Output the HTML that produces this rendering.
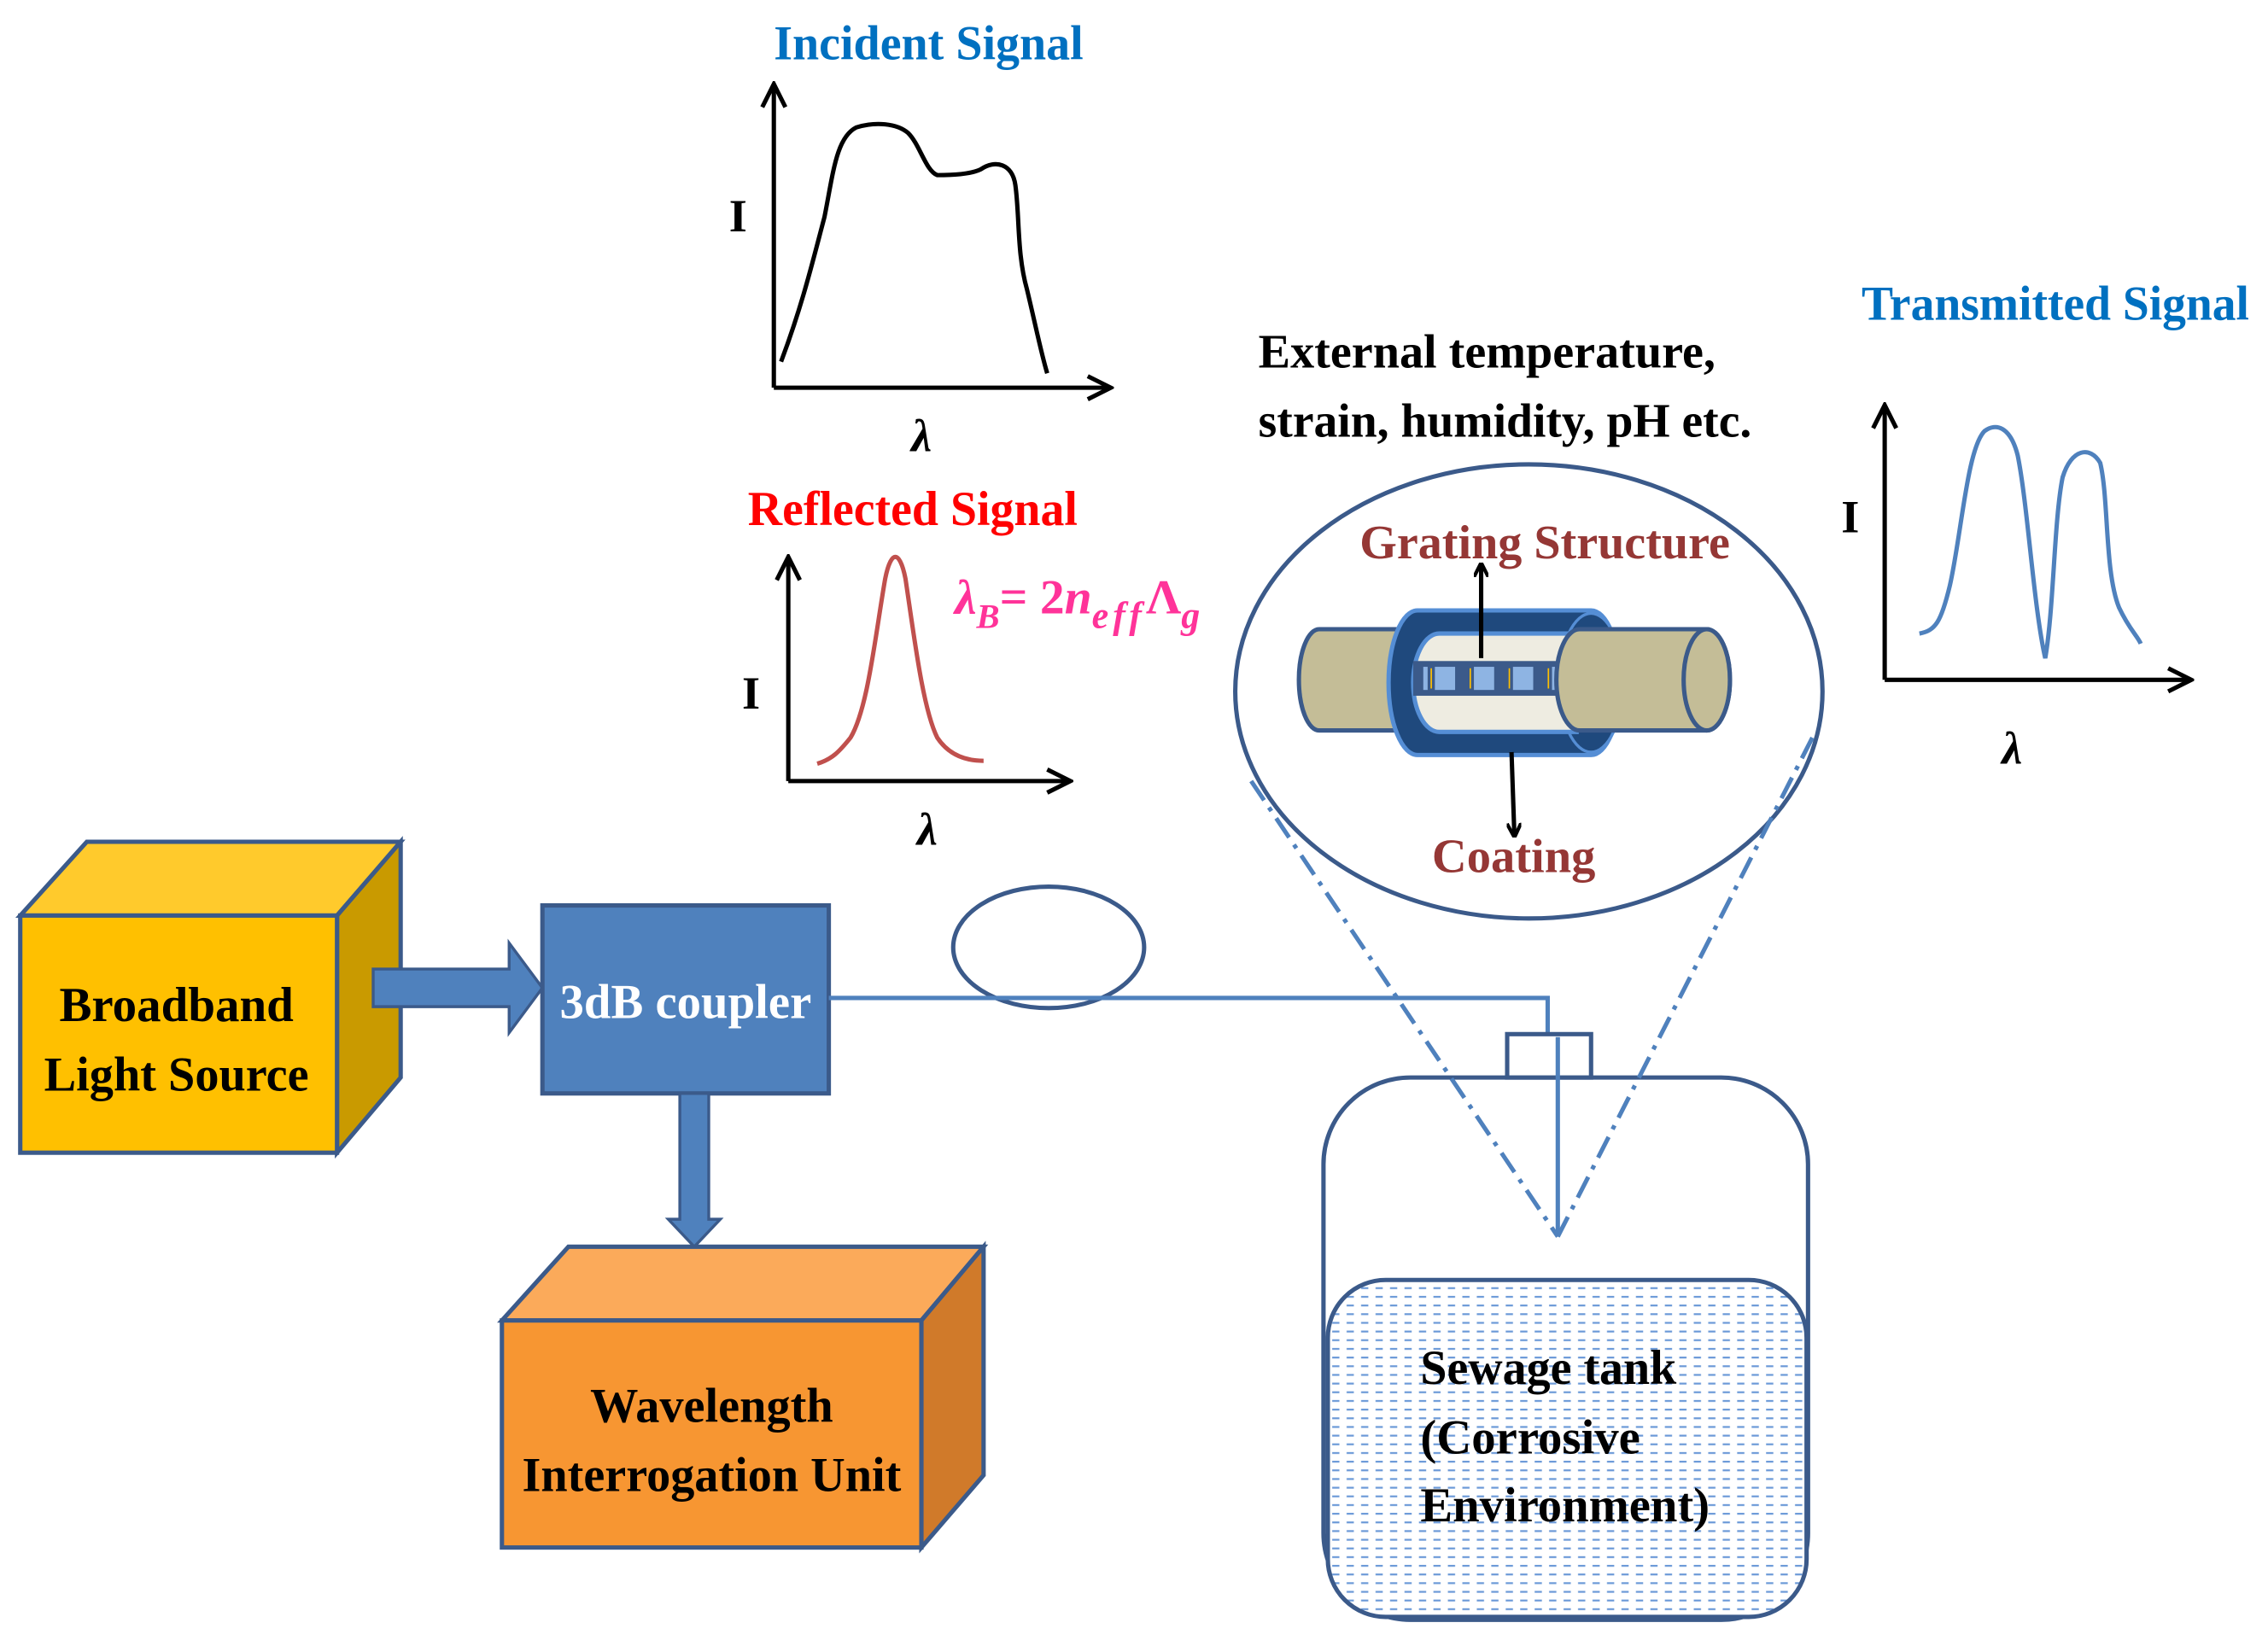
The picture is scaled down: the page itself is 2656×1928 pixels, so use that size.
<!DOCTYPE html>
<html><head><meta charset="utf-8"><style>
html,body{margin:0;padding:0;background:#fff;}
svg{display:block;}
text{font-family:"Liberation Serif",serif;font-weight:bold;}
</style></head><body>
<svg width="2656" height="1928" viewBox="0 0 1568 1138" xmlns="http://www.w3.org/2000/svg">
<defs>
<marker id="ah" markerWidth="10" markerHeight="10" refX="9" refY="5" orient="auto" markerUnits="userSpaceOnUse"><path d="M0,0 L10,5 L0,10" fill="none" stroke="#000" stroke-width="2.5"/></marker>
<marker id="ah2" markerWidth="20" markerHeight="20" refX="18" refY="10" orient="auto" markerUnits="userSpaceOnUse"><path d="M2,2 L18,10 L2,18" fill="none" stroke="#000" stroke-width="3"/></marker>
<pattern id="dash" width="10" height="6" patternUnits="userSpaceOnUse"><rect width="10" height="6" fill="#fff"/><rect x="1" y="2" width="5" height="1.3" fill="#6c9ad8"/></pattern>
</defs>

<!-- Incident -->
<text x="535" y="41" font-size="34" fill="#0070c0" textLength="214" lengthAdjust="spacingAndGlyphs">Incident Signal</text>
<line x1="535" y1="268" x2="535" y2="58" stroke="#000" stroke-width="3" marker-end="url(#ah2)"/>
<line x1="535" y1="268" x2="768" y2="268" stroke="#000" stroke-width="3" marker-end="url(#ah2)"/>
<text x="504" y="160" font-size="32">I</text>
<text x="630" y="312" font-size="32" font-style="italic">λ</text>
<path d="M540,250 C555,210 562,180 570,150 C576,120 578,95 592,88 C605,84 620,85 628,92 C636,100 640,118 648,121 C660,121 672,120 678,117 C688,110 700,113 702,128 C705,150 703,175 710,200 C716,225 720,245 724,258" fill="none" stroke="#000" stroke-width="3"/>

<!-- Reflected -->
<text x="517" y="363" font-size="34" fill="#ff0000" textLength="228" lengthAdjust="spacingAndGlyphs">Reflected Signal</text>
<line x1="545" y1="540" x2="545" y2="385" stroke="#000" stroke-width="3" marker-end="url(#ah2)"/>
<line x1="545" y1="540" x2="740" y2="540" stroke="#000" stroke-width="3" marker-end="url(#ah2)"/>
<text x="513" y="490" font-size="32">I</text>
<text x="634" y="584" font-size="32" font-style="italic">λ</text>
<path d="M565,528 C575,525 580,520 588,510 C600,490 605,440 612,400 C616,380 622,380 626,400 C632,440 638,490 648,510 C656,522 668,526 680,526" fill="none" stroke="#c0504d" stroke-width="3"/>
<text x="660" y="424" font-size="34" fill="#ff3399" font-style="italic" font-family="Liberation Serif, serif">λ<tspan font-size="24" dy="10">B</tspan><tspan dy="-10" font-style="normal">= 2</tspan>n<tspan font-size="26" dy="10" letter-spacing="3">eff</tspan><tspan dy="-10" font-style="normal">Λ</tspan><tspan font-size="26" dy="10">g</tspan></text>

<!-- Transmitted -->
<text x="1287" y="221" font-size="34" fill="#0070c0" textLength="268" lengthAdjust="spacingAndGlyphs">Transmitted Signal</text>
<line x1="1303" y1="470" x2="1303" y2="280" stroke="#000" stroke-width="3" marker-end="url(#ah2)"/>
<line x1="1303" y1="470" x2="1515" y2="470" stroke="#000" stroke-width="3" marker-end="url(#ah2)"/>
<text x="1273" y="368" font-size="32">I</text>
<text x="1384" y="528" font-size="32" font-style="italic">λ</text>
<path d="M1327,438 C1338,436 1342,430 1348,405 C1356,370 1360,310 1372,298 C1380,292 1390,295 1395,315 C1402,350 1406,420 1414,455 C1420,420 1420,360 1426,330 C1432,310 1445,308 1452,320 C1458,345 1455,395 1465,420 C1472,435 1478,440 1480,445" fill="none" stroke="#4f81bd" stroke-width="3"/>

<!-- External -->
<text x="870" y="254" font-size="33" fill="#000" textLength="316" lengthAdjust="spacingAndGlyphs">External temperature,</text>
<text x="870" y="302" font-size="33" fill="#000" textLength="341" lengthAdjust="spacingAndGlyphs">strain, humidity, pH etc.</text>

<!-- Ellipse -->
<ellipse cx="1057" cy="478" rx="203" ry="157" fill="#fff" stroke="#3b5a8a" stroke-width="3"/>
<text x="940" y="386" font-size="33" fill="#953735" textLength="256" lengthAdjust="spacingAndGlyphs">Grating Structure</text>
<text x="990" y="603" font-size="33" fill="#953735" textLength="113" lengthAdjust="spacingAndGlyphs">Coating</text>

<!-- left rod -->
<path d="M912,435 L990,435 L990,505 L912,505 A14,35 0 0 1 912,435 Z" fill="#c4bd97" stroke="#3b5a8a" stroke-width="3"/>
<!-- sheath -->
<path d="M980,422 L1100,422 A20,50 0 0 1 1100,522 L980,522 A20,50 0 0 1 980,422 Z" fill="#1f497d" stroke="#558ed5" stroke-width="3"/>
<ellipse cx="1100" cy="472" rx="22" ry="48" fill="#1f497d" stroke="#558ed5" stroke-width="2"/>
<!-- inner light -->
<path d="M995,438 L1090,438 L1090,506 L995,506 A18,34 0 0 1 995,438 Z" fill="#eeece1" stroke="#558ed5" stroke-width="3"/>
<!-- grating bar -->
<rect x="977" y="457" width="102" height="24" fill="#3b5a8a"/>
<g fill="#8eb4e3"><rect x="984" y="461" width="3" height="16"/><rect x="992" y="461" width="14" height="16"/><rect x="1019" y="461" width="14" height="16"/><rect x="1046" y="461" width="14" height="16"/><rect x="1073" y="461" width="5" height="16"/></g>
<g fill="#ffc000"><rect x="989" y="462" width="1" height="14"/><rect x="1016" y="462" width="1" height="14"/><rect x="1043" y="462" width="1" height="14"/><rect x="1070" y="462" width="1" height="14"/></g>
<!-- right rod -->
<path d="M1092,435 L1180,435 A16,35 0 0 1 1180,505 L1092,505 A16,35 0 0 1 1092,435 Z" fill="#c4bd97" stroke="#3b5a8a" stroke-width="3"/>
<ellipse cx="1180" cy="470" rx="16" ry="35" fill="#c4bd97" stroke="#3b5a8a" stroke-width="3"/>
<line x1="1024" y1="455" x2="1024" y2="390" stroke="#000" stroke-width="3" marker-end="url(#ah)"/>
<line x1="1045" y1="520" x2="1047" y2="578" stroke="#000" stroke-width="3" marker-end="url(#ah)"/>

<!-- Broadband box -->
<polygon points="14,633 60,582 277,582 233,633" fill="#ffca2c" stroke="#3b5a8a" stroke-width="3"/>
<polygon points="233,633 277,582 277,745 233,797" fill="#c99a00" stroke="#3b5a8a" stroke-width="3"/>
<rect x="14" y="633" width="219" height="164" fill="#ffc000" stroke="#3b5a8a" stroke-width="3"/>
<text x="122" y="706" font-size="34" text-anchor="middle" textLength="162" lengthAdjust="spacingAndGlyphs">Broadband</text>
<text x="122" y="754" font-size="34" text-anchor="middle" textLength="183" lengthAdjust="spacingAndGlyphs">Light Source</text>

<!-- right arrow -->
<polygon points="258,670 352,670 352,652 375,683 352,714 352,696 258,696" fill="#4f81bd" stroke="#3b5a8a" stroke-width="2"/>

<!-- coupler -->
<rect x="375" y="626" width="198" height="130" fill="#4f81bd" stroke="#3b5a8a" stroke-width="3"/>
<text x="474" y="704" font-size="34" fill="#fff" text-anchor="middle" textLength="174" lengthAdjust="spacingAndGlyphs">3dB coupler</text>

<!-- down arrow -->
<polygon points="470,756 490,756 490,843 498,843 480,862 462,843 470,843" fill="#4f81bd" stroke="#3b5a8a" stroke-width="2"/>

<!-- Wavelength box -->
<polygon points="347,913 393,862 680,862 637,913" fill="#fbaa5a" stroke="#3b5a8a" stroke-width="3"/>
<polygon points="637,913 680,862 680,1020 637,1070" fill="#d07a2a" stroke="#3b5a8a" stroke-width="3"/>
<rect x="347" y="913" width="290" height="157" fill="#f79632" stroke="#3b5a8a" stroke-width="3"/>
<text x="492" y="983" font-size="34" text-anchor="middle" textLength="168" lengthAdjust="spacingAndGlyphs">Wavelength</text>
<text x="492" y="1031" font-size="34" text-anchor="middle" textLength="262" lengthAdjust="spacingAndGlyphs">Interrogation Unit</text>

<!-- fiber -->
<ellipse cx="725" cy="655" rx="66" ry="42" fill="none" stroke="#3b5a8a" stroke-width="3"/>
<polyline points="573,690 1070,690 1070,717" fill="none" stroke="#4f81bd" stroke-width="3"/>

<!-- Tank -->
<rect x="915" y="745" width="335" height="375" rx="60" ry="60" fill="#fff" stroke="#3b5a8a" stroke-width="3"/>
<rect x="918" y="885" width="331" height="233" rx="40" ry="40" fill="url(#dash)" stroke="#3b5a8a" stroke-width="3"/>
<rect x="1042" y="715" width="58" height="30" fill="#fff" stroke="#3b5a8a" stroke-width="3"/>
<line x1="1077" y1="717" x2="1077" y2="855" stroke="#4f81bd" stroke-width="3"/>

<!-- Dash-dot lines -->
<line x1="865" y1="540" x2="1077" y2="855" stroke="#4f81bd" stroke-width="3" stroke-dasharray="16,6,3,6"/>
<line x1="1253" y1="510" x2="1077" y2="855" stroke="#4f81bd" stroke-width="3" stroke-dasharray="16,6,3,6"/>

<text x="982" y="957" font-size="34" textLength="177" lengthAdjust="spacingAndGlyphs">Sewage tank</text>
<text x="982" y="1005" font-size="34" textLength="152" lengthAdjust="spacingAndGlyphs">(Corrosive</text>
<text x="982" y="1052" font-size="34" textLength="200" lengthAdjust="spacingAndGlyphs">Environment)</text>
</svg>
</body></html>
